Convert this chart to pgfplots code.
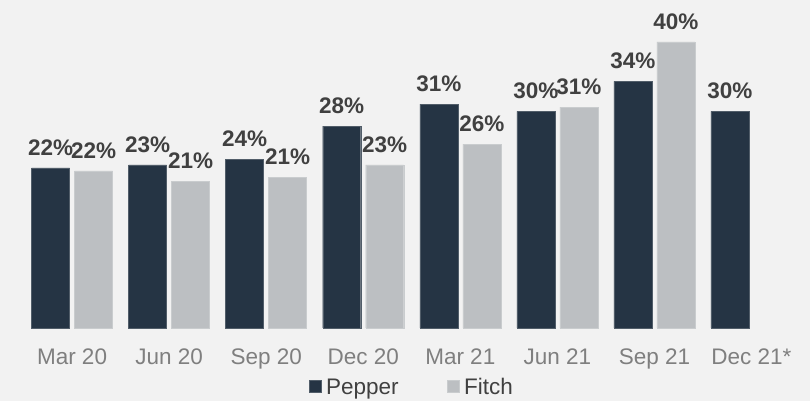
\documentclass[border=0pt]{standalone}
\usepackage{pgfplots}
\pgfplotsset{compat=1.18}
\usepackage{fontspec}
\setmainfont{Liberation Sans}
\definecolor{bgc}{HTML}{F2F2F2}
\definecolor{navy}{HTML}{253444}
\definecolor{lgray}{HTML}{BCBFC2}
\definecolor{lbl}{HTML}{404040}
\definecolor{tick}{HTML}{7F7F7F}
\begin{document}
\begin{tikzpicture}[x=1pt,y=1pt]
\fill[bgc] (0,0) rectangle (810,401);
\begin{axis}[
  at={(23.5pt,73pt)}, anchor=south west,
  scale only axis, width=776.5pt, height=321.75pt,
  xmin=-0.5, xmax=7.5, ymin=0, ymax=45,
  axis line style={draw=none}, ytick=\empty,
  xtick={0,...,7}, major tick length=0pt,
  xticklabels={Mar 20,Jun 20,Sep 20,Dec 20,Mar 21,Jun 21,Sep 21,Dec 21*},
  xticklabel style={font=\fontsize{22.5}{26}\selectfont, text=tick, yshift=-17pt},
  ybar, bar width=38pt, clip=false,
  point meta=explicit symbolic,
  nodes near coords,
  every node near coord/.append style={font=\bfseries\fontsize{22.5}{26}\selectfont, text=lbl, yshift=9pt},
  legend columns=2,
  legend style={at={(0.5,-0.0)}, anchor=north, yshift=-48pt, draw=none, fill=none,
    font=\fontsize{22.5}{26}\selectfont, text=lbl, inner sep=0pt,
    /tikz/every even column/.append style={column sep=46pt}},
  legend image code/.code={\fill[#1] (0pt,-5pt) rectangle (12pt,7pt); \path (15pt,0pt);},
]
\addplot[fill=navy, draw=navy!80!white, bar shift=-21.5pt] coordinates {
 (0,22.4) [22\%] (1,22.8) [23\%] (2,23.6) [24\%] (3,28.25) [28\%]
 (4,31.3) [31\%] (5,30.3) [30\%] (6,34.5) [34\%] (7,30.3) [30\%]};
\addplot[fill=lgray, draw=lgray!80!white, bar shift=21.5pt] coordinates {
 (0,21.96) [22\%] (1,20.5) [21\%] (2,21.1) [21\%] (3,22.8) [23\%]
 (4,25.7) [26\%] (5,30.9) [31\%] (6,40) [40\%]};
\legend{Pepper,Fitch}
\end{axis}
\pgfresetboundingbox
\useasboundingbox (0,0) rectangle (810,401);
\end{tikzpicture}
\end{document}
